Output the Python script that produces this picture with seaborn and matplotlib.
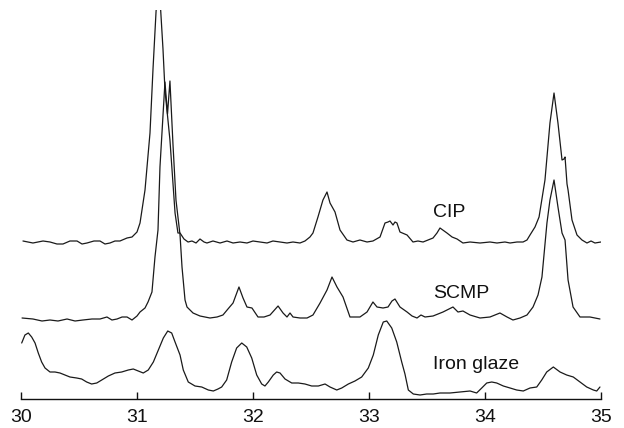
import matplotlib
matplotlib.use("Agg")
import matplotlib.pyplot as plt
import seaborn as sns
import pandas as pd

# ---- data (2-theta in degrees, intensity in arbitrary units, offsets included) ----
cip_x = [30.017, 30.103, 30.190, 30.250, 30.310, 30.362, 30.422, 30.483, 30.526, 30.569,
         30.629, 30.681, 30.724, 30.767, 30.810, 30.853, 30.914, 30.957, 31.000, 31.026,
         31.069, 31.112, 31.138, 31.164, 31.184, 31.204, 31.224, 31.241, 31.284, 31.328,
         31.353, 31.371, 31.405, 31.440, 31.474, 31.509, 31.543, 31.578, 31.603, 31.655,
         31.716, 31.776, 31.828, 31.888, 31.948, 32.000, 32.060, 32.121, 32.172, 32.233,
         32.293, 32.345, 32.405, 32.448, 32.491, 32.517, 32.560, 32.603, 32.638, 32.664,
         32.707, 32.750, 32.810, 32.862, 32.922, 32.983, 33.034, 33.095, 33.138, 33.164,
         33.181, 33.207, 33.224, 33.241, 33.267, 33.328, 33.379, 33.422, 33.466, 33.509,
         33.552, 33.586, 33.612, 33.672, 33.716, 33.759, 33.810, 33.871, 33.957, 34.043,
         34.103, 34.172, 34.216, 34.276, 34.328, 34.362, 34.388, 34.431, 34.466, 34.517,
         34.560, 34.595, 34.629, 34.664, 34.681, 34.690, 34.707, 34.716, 34.750, 34.793,
         34.836, 34.879, 34.914, 34.948, 35.000]
cip_y = [158, 156, 158, 157, 155, 155, 158, 158, 155, 156,
         158, 158, 155, 156, 158, 158, 161, 162, 167, 176,
         209, 266, 330, 387, 420, 389, 350, 309, 259, 186,
         166, 166, 160, 157, 158, 156, 160, 157, 156, 158,
         156, 158, 156, 157, 156, 158, 157, 156, 158, 157,
         156, 157, 156, 158, 162, 166, 182, 199, 207, 196,
         187, 169, 159, 157, 159, 157, 158, 162, 176, 177,
         178, 174, 177, 176, 167, 164, 157, 158, 157, 159,
         161, 166, 171, 166, 162, 160, 156, 157, 156, 157,
         156, 157, 156, 157, 157, 159, 164, 172, 182, 219,
         276, 306, 276, 239, 240, 242, 215, 209, 179, 164,
         159, 156, 158, 156, 157]

scmp_x = [30.009, 30.103, 30.181, 30.250, 30.319, 30.397, 30.466, 30.534, 30.612, 30.681,
          30.741, 30.784, 30.828, 30.871, 30.914, 30.957, 31.000, 31.026, 31.069, 31.095,
          31.129, 31.155, 31.181, 31.198, 31.241, 31.263, 31.284, 31.310, 31.336, 31.371,
          31.388, 31.414, 31.431, 31.483, 31.543, 31.629, 31.690, 31.741, 31.784, 31.828,
          31.879, 31.914, 31.948, 31.991, 32.043, 32.095, 32.147, 32.216, 32.259, 32.293,
          32.319, 32.345, 32.405, 32.466, 32.517, 32.578, 32.638, 32.681, 32.724, 32.776,
          32.836, 32.922, 32.983, 33.034, 33.069, 33.121, 33.164, 33.198, 33.224, 33.267,
          33.328, 33.371, 33.414, 33.448, 33.483, 33.552, 33.638, 33.724, 33.767, 33.810,
          33.871, 33.957, 34.043, 34.129, 34.190, 34.241, 34.302, 34.362, 34.414, 34.457,
          34.491, 34.534, 34.560, 34.595, 34.629, 34.664, 34.690, 34.716, 34.759, 34.819,
          34.905, 34.991]
scmp_y = [81, 80, 78, 79, 78, 80, 78, 79, 80, 80,
          82, 79, 80, 82, 82, 79, 83, 87, 91, 97,
          107, 142, 169, 232, 317, 285, 318, 255, 199, 164,
          132, 99, 92, 86, 83, 81, 82, 84, 90, 96,
          112, 101, 92, 91, 82, 82, 84, 93, 86, 82,
          86, 82, 81, 81, 84, 96, 109, 122, 112, 102,
          82, 82, 87, 97, 92, 91, 92, 98, 100, 92,
          87, 83, 81, 84, 82, 83, 87, 92, 87, 88,
          84, 81, 82, 86, 82, 79, 81, 84, 92, 104,
          122, 176, 199, 219, 192, 166, 159, 119, 92, 82,
          82, 80]

iron_x = [30.006, 30.034, 30.063, 30.092, 30.121, 30.149, 30.178, 30.207, 30.250, 30.293,
          30.336, 30.379, 30.422, 30.480, 30.523, 30.566, 30.609, 30.653, 30.696, 30.753,
          30.810, 30.868, 30.925, 30.968, 31.011, 31.054, 31.097, 31.141, 31.184, 31.227,
          31.265, 31.299, 31.328, 31.371, 31.399, 31.442, 31.500, 31.558, 31.615, 31.658,
          31.698, 31.730, 31.773, 31.816, 31.859, 31.903, 31.946, 31.989, 32.032, 32.075,
          32.103, 32.132, 32.175, 32.204, 32.233, 32.276, 32.334, 32.391, 32.448, 32.506,
          32.563, 32.621, 32.664, 32.722, 32.765, 32.822, 32.879, 32.937, 32.994, 33.037,
          33.080, 33.123, 33.153, 33.196, 33.239, 33.282, 33.310, 33.339, 33.382, 33.440,
          33.497, 33.554, 33.612, 33.698, 33.784, 33.871, 33.928, 33.972, 34.015, 34.058,
          34.101, 34.158, 34.216, 34.273, 34.330, 34.388, 34.446, 34.489, 34.532, 34.589,
          34.647, 34.704, 34.761, 34.819, 34.877, 34.934, 34.963, 34.991]
iron_y = [56, 64, 66, 62, 56, 46, 37, 31, 27, 27,
          26, 24, 22, 21, 20, 17, 15, 16, 19, 23,
          26, 27, 29, 30, 28, 26, 29, 37, 49, 61,
          68, 66, 57, 44, 29, 17, 13, 12, 9, 8,
          10, 12, 19, 37, 51, 56, 52, 41, 24, 15,
          13, 17, 24, 27, 26, 20, 16, 16, 15, 13,
          13, 15, 12, 9, 11, 15, 18, 22, 31, 44,
          64, 77, 78, 71, 57, 37, 25, 9, 5, 4,
          5, 5, 6, 6, 7, 8, 6, 11, 16, 17,
          16, 13, 11, 9, 8, 11, 12, 19, 27, 32,
          27, 24, 22, 17, 12, 9, 8, 12]

series_names = ["CIP", "SCMP", "Iron glaze"]
label_x = [33.55, 33.55, 33.55]
label_y = [182, 101, 30]
x_ticks = [30, 31, 32, 33, 34, 35]

df = pd.concat([
    pd.DataFrame({"two_theta": cip_x, "intensity": cip_y, "sample": "CIP"}),
    pd.DataFrame({"two_theta": scmp_x, "intensity": scmp_y, "sample": "SCMP"}),
    pd.DataFrame({"two_theta": iron_x, "intensity": iron_y, "sample": "Iron glaze"}),
], ignore_index=True)

sns.set_theme(style="white")
plt.rcParams["font.family"] = ["Liberation Sans", "DejaVu Sans"]

fig = plt.figure(figsize=(6.24, 4.28), dpi=100)
ax = fig.add_axes([21 / 624, 29 / 428, 580 / 624, 389 / 428])

for name in series_names:
    sub = df[df["sample"] == name]
    sns.lineplot(data=sub, x="two_theta", y="intensity", ax=ax, color="#1a1a1a",
                 linewidth=0.9, estimator=None, sort=False, legend=False)

for name, lx, ly in zip(series_names, label_x, label_y):
    ax.text(lx, ly, name, fontsize=14, ha="left", va="baseline", color="#111111")

ax.set_xlim(30, 35)
ax.set_ylim(0, 389)
ax.set_xticks(x_ticks)
ax.set_xticklabels([str(t) for t in x_ticks])
ax.set_yticks([])
ax.set_xlabel("")
ax.set_ylabel("")
for s in ["left", "right", "top"]:
    ax.spines[s].set_visible(False)
ax.spines["bottom"].set_color("#111111")
ax.spines["bottom"].set_linewidth(1.0)
ax.tick_params(axis="x", direction="in", length=5, width=1.0, colors="#111111",
               labelsize=14, pad=7.5, bottom=True)
ax.patch.set_alpha(0)

fig.savefig("out.png", dpi=100)
